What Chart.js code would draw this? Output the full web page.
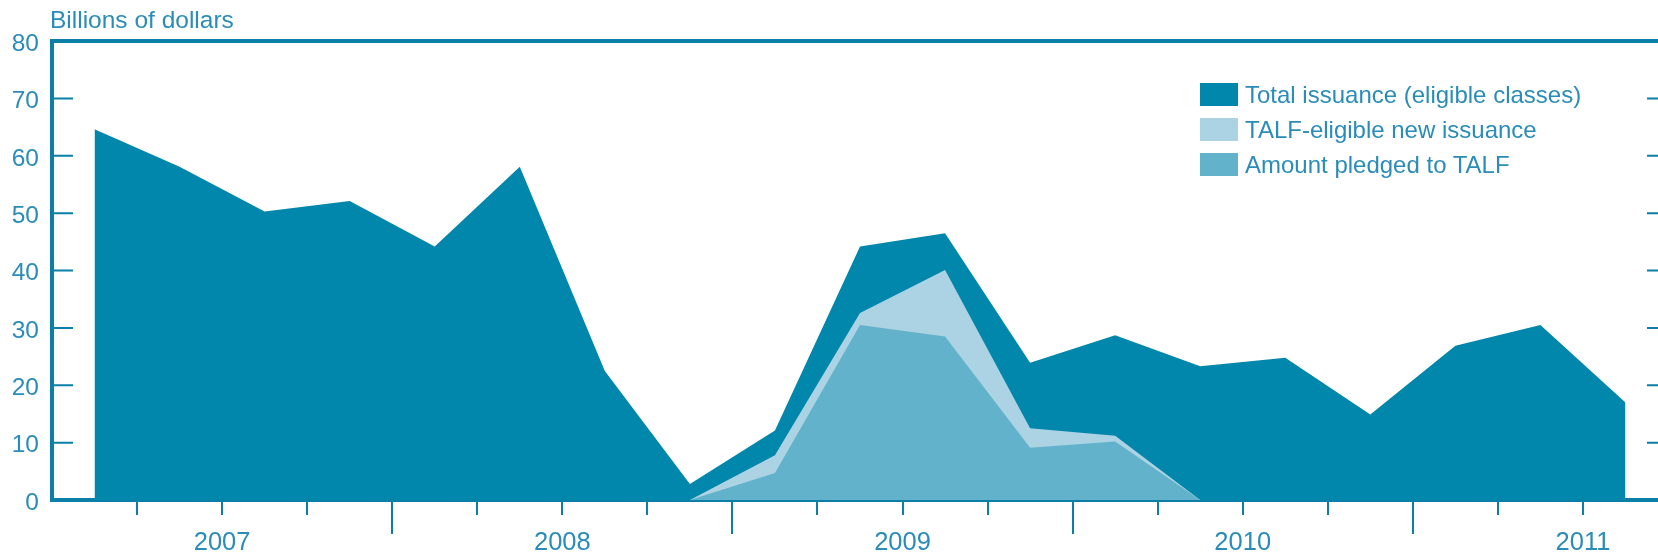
<!DOCTYPE html>
<html>
<head>
<meta charset="utf-8">
<script src="https://cdn.jsdelivr.net/npm/chart.js@4.4.1/dist/chart.umd.min.js"></script>
<style>
  html, body { margin: 0; padding: 0; background: #fff; overflow: hidden; }
  #wrap { position: relative; width: 1658px; height: 553px; overflow: hidden; }
  #chart { position: absolute; left: 0; top: 0; }
  #legend { position: absolute; left: 1200px; top: 83px; font-family: "Liberation Sans", Arial, sans-serif; font-size: 24px; color: #2a8cb8; }
  .row { height: 35px; display: flex; align-items: flex-start; white-space: nowrap; }
  .box { width: 38px; height: 23px; margin-right: 7px; flex: none; }
  .row span { line-height: 23px; }
</style>
</head>
<body>
<div id="wrap">
  <canvas id="chart" width="1672" height="553"></canvas>
  <div id="legend"></div>
</div>
<script>
// quarterly data, Q1 2007 - Q3 2011
const quarters = [
  '2007 Q1', '2007 Q2', '2007 Q3', '2007 Q4',
  '2008 Q1', '2008 Q2', '2008 Q3', '2008 Q4',
  '2009 Q1', '2009 Q2', '2009 Q3', '2009 Q4',
  '2010 Q1', '2010 Q2', '2010 Q3', '2010 Q4',
  '2011 Q1', '2011 Q2', '2011 Q3'
];
const totalIssuance = [64.6, 58.1, 50.3, 52.1, 44.2, 58.1, 22.5, 2.8, 12.1, 44.2, 46.5, 23.9, 28.7, 23.3, 24.8, 14.9, 26.9, 30.5, 17.0];
const eligibleIssuance = [null, null, null, null, null, null, null, 0, 7.8, 32.6, 40.1, 12.5, 11.2, 0, null, null, null, null, null];
const pledgedTalf = [null, null, null, null, null, null, null, 0, 4.7, 30.5, 28.5, 9.1, 10.2, 0, null, null, null, null, null];
const yearLabels = ['2007', '2008', '2009', '2010', '2011'];

const axisColor = '#0b7fa7';
const textColor = '#2a8cb8';
const fontFamily = '"Liberation Sans", Arial, sans-serif';

// top/right frame, inward y ticks, quarter ticks, year labels, unit label
const axisDecor = {
  id: 'axisDecor',
  afterDraw(chart) {
    const { ctx, chartArea: a, scales: { x, y } } = chart;
    ctx.save();
    ctx.strokeStyle = axisColor;
    ctx.lineWidth = 4;
    ctx.beginPath();
    ctx.moveTo(a.left - 2, a.top);
    ctx.lineTo(a.right + 2, a.top);
    ctx.moveTo(a.right, a.top);
    ctx.lineTo(a.right, a.bottom);
    ctx.stroke();

    ctx.lineWidth = 2;
    ctx.beginPath();
    y.ticks.forEach(t => {
      if (t.value <= y.min || t.value >= y.max) return;
      const py = y.getPixelForValue(t.value);
      ctx.moveTo(a.left, py); ctx.lineTo(a.left + 21, py);
      ctx.moveTo(a.right - 21, py); ctx.lineTo(a.right, py);
    });
    ctx.stroke();

    ctx.beginPath();
    for (let i = 1; i < quarters.length; i++) {
      const px = Math.round((x.getPixelForValue(i - 1) + x.getPixelForValue(i)) / 2);
      const len = i % 4 === 0 ? 34 : 15;
      ctx.moveTo(px, a.bottom + 2);
      ctx.lineTo(px, a.bottom + len);
    }
    ctx.stroke();

    ctx.fillStyle = textColor;
    ctx.font = '25.5px ' + fontFamily;
    ctx.textAlign = 'center';
    ctx.textBaseline = 'alphabetic';
    yearLabels.forEach((yr, k) => {
      const i = k * 4 + 2;
      const px = (x.getPixelForValue(i - 1) + x.getPixelForValue(i)) / 2;
      ctx.fillText(yr, px, 550);
    });

    ctx.font = '24.5px ' + fontFamily;
    ctx.textAlign = 'left';
    ctx.fillText('Billions of dollars', 50, 28);
    ctx.restore();
  }
};

const chart = new Chart(document.getElementById('chart'), {
  type: 'line',
  data: {
    labels: quarters,
    datasets: [
      {
        label: 'Total issuance (eligible classes)',
        data: totalIssuance,
        backgroundColor: '#0087ab',
        borderWidth: 0,
        fill: 'origin',
        order: 3
      },
      {
        label: 'TALF-eligible new issuance',
        data: eligibleIssuance,
        backgroundColor: '#abd3e3',
        borderWidth: 0,
        fill: 'origin',
        order: 2
      },
      {
        label: 'Amount pledged to TALF',
        data: pledgedTalf,
        backgroundColor: '#62b2cc',
        borderWidth: 0,
        fill: 'origin',
        order: 1
      }
    ]
  },
  options: {
    responsive: false,
    animation: false,
    layout: { padding: { top: 41, right: 4, left: 0, bottom: 0 } },
    elements: { point: { radius: 0, hoverRadius: 0 }, line: { tension: 0 } },
    plugins: {
      legend: { display: false },
      tooltip: { enabled: false }
    },
    scales: {
      x: {
        type: 'category',
        offset: true,
        ticks: { display: false },
        grid: { display: true, drawOnChartArea: false, drawTicks: false, offset: true },
        border: { display: true, color: axisColor, width: 4 },
        afterFit(s) { s.height = 53; }
      },
      y: {
        min: 0,
        max: 80,
        ticks: {
          stepSize: 10,
          color: textColor,
          font: { family: fontFamily, size: 24.5 },
          padding: 13,
          labelOffset: 3
        },
        grid: { display: true, drawOnChartArea: false, drawTicks: false },
        border: { display: true, color: axisColor, width: 4 },
        afterFit(s) { s.width = 52; }
      }
    }
  },
  plugins: [axisDecor]
});

// legend in the upper right of the plot
const legendEl = document.getElementById('legend');
chart.data.datasets.forEach(ds => {
  const row = document.createElement('div');
  row.className = 'row';
  const box = document.createElement('div');
  box.className = 'box';
  box.style.background = ds.backgroundColor;
  const txt = document.createElement('span');
  txt.textContent = ds.label;
  row.appendChild(box);
  row.appendChild(txt);
  legendEl.appendChild(row);
});
</script>
</body>
</html>
